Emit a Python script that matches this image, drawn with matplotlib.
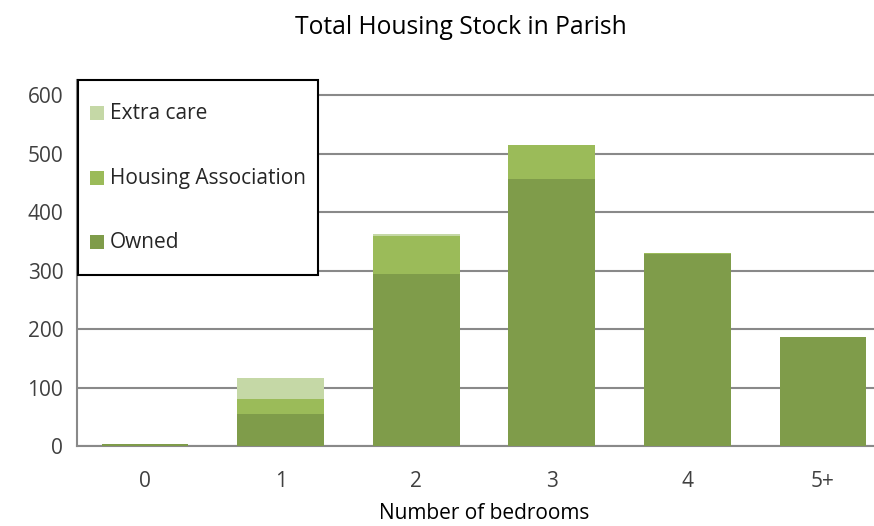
import matplotlib.pyplot as plt
from matplotlib.lines import Line2D
from matplotlib.path import Path
import numpy as np

bedrooms = ["0", "1", "2", "3", "4", "5+"]
owned = [3, 55, 294, 456, 328, 186]
housing_assoc = [0, 25, 65, 59, 2, 0]
extra_care = [0, 36, 4, 0, 0, 0]

col_owned = "#7F9C4A"
col_ha = "#9BBB59"
col_extra = "#C5D8A6"
grid_col = "#898989"

plt.rcParams["font.family"] = ["Open Sans", "DejaVu Sans"]

W, H = 874, 526
fig = plt.figure(figsize=(W / 100, H / 100), dpi=100)

# axes placed in pixel terms: x0 at 77, baseline at 446, 600 line at 95
step = 135.6
left_px = 145 - step / 2
right_px = 823 + step / 2
y0_px, y600_px, top_px = 446, 95, 80
ytop = 600 * (y0_px - top_px) / (y0_px - y600_px)
ax = fig.add_axes([left_px / W, 1 - y0_px / H, (right_px - left_px) / W, (y0_px - top_px) / H])

x = np.arange(len(bedrooms))
width = 0.64
owned = np.array(owned)
housing_assoc = np.array(housing_assoc)
extra_care = np.array(extra_care)

ax.bar(x, owned, width, color=col_owned, zorder=3)
ax.bar(x, housing_assoc, width, bottom=owned, color=col_ha, zorder=3)
ax.bar(x, extra_care, width, bottom=owned + housing_assoc, color=col_extra, zorder=3)

ax.set_xlim(-0.5, len(bedrooms) - 0.5)
ax.set_ylim(0, ytop)
ax.set_yticks(range(0, 601, 100))
ax.set_xticks(x)
ax.set_xticklabels(bedrooms)
ax.tick_params(axis="both", length=0, labelsize=15, colors="#404040", pad=10)
ax.tick_params(axis="x", pad=18)

ax.yaxis.grid(True, color=grid_col, linewidth=1.5, zorder=0)
for s in ["top", "right"]:
    ax.spines[s].set_visible(False)
ax.spines["left"].set_color(grid_col)
ax.spines["left"].set_linewidth(1.5)
ax.spines["bottom"].set_color(grid_col)
ax.spines["bottom"].set_linewidth(1.5)

ax.set_xlabel("Number of bedrooms", fontsize=15, color="#000000", labelpad=8)
fig.text(461 / W, 1 - 27 / H, "Total Housing Stock in Parish", fontsize=17.7,
         ha="center", va="center", color="#000000")

# legend key: a square marker shifted down so it sits on the text baseline
half, drop = 6.75, 8.0
square = Path([(-half, -drop - half), (half, -drop - half), (half, -drop + half),
               (-half, -drop + half), (-half, -drop - half)],
              [Path.MOVETO, Path.LINETO, Path.LINETO, Path.LINETO, Path.CLOSEPOLY])
marker_pt = 2 * (drop + half) * 72 / 100


def key(c):
    return Line2D([], [], linestyle="none", marker=square, markersize=marker_pt,
                  markerfacecolor=c, markeredgewidth=0)


leg = ax.legend(handles=[key(col_extra), key(col_ha), key(col_owned)],
                labels=["Extra care", "Housing Association", "Owned"],
                loc="upper left",
                bbox_to_anchor=(78 / W, 1 - 275 / H, 240 / W, 195 / H),
                bbox_transform=fig.transFigure, mode="expand",
                fontsize=15, frameon=True, fancybox=False, borderaxespad=0,
                framealpha=1, handlelength=0.7, handleheight=2.83, handletextpad=0.28,
                labelspacing=1.0, borderpad=0.55, labelcolor="#262626")
leg.get_frame().set_edgecolor("#000000")
leg.get_frame().set_linewidth(1.5)
leg.set_zorder(5)

fig.savefig("out.png", dpi=100)
